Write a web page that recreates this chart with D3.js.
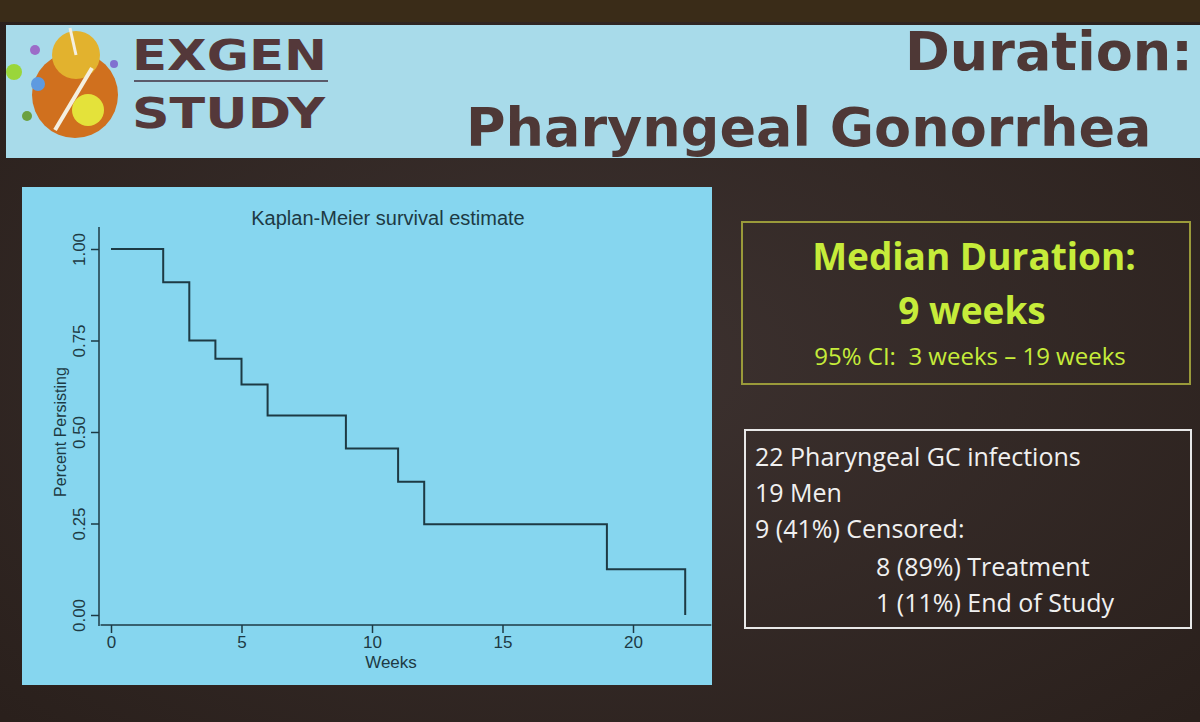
<!DOCTYPE html>
<html><head><meta charset="utf-8">
<script src="https://cdn.jsdelivr.net/npm/d3@7"></script>
<style>body{margin:0;background:#2e2522;overflow:hidden}</style></head>
<body><svg id="s" width="1200" height="722"></svg>
<script>
const weeks = [0, 2, 3, 4, 5, 6, 9, 11, 12, 19, 22];
const survival = [1.00, 0.909, 0.75, 0.70, 0.63, 0.545, 0.455, 0.364, 0.248, 0.125, 0.0];
const xTicks = [0, 5, 10, 15, 20];
const yTicks = [0, 0.25, 0.5, 0.75, 1.0];
const infoLines = ["22 Pharyngeal GC infections","19 Men","9 (41%) Censored:"];
const infoSub = ["8 (89%) Treatment","1 (11%) End of Study"];

const svg = d3.select("#s");
const defs = svg.append("defs");
const g1 = defs.append("radialGradient").attr("id","bg").attr("cx","50%").attr("cy","50%").attr("r","70%");
g1.append("stop").attr("offset","0%").attr("stop-color","#3d3230");
g1.append("stop").attr("offset","100%").attr("stop-color","#2a201c");
svg.append("rect").attr("width",1200).attr("height",722).attr("fill","url(#bg)");
svg.append("rect").attr("width",1200).attr("height",22).attr("fill","#3a2c18");

// header
svg.append("rect").attr("x",6).attr("y",25).attr("width",1194).attr("height",133).attr("fill","#a8dbea");
svg.append("circle").attr("cx",75).attr("cy",95).attr("r",43).attr("fill","#d0701e");
svg.append("circle").attr("cx",76).attr("cy",55).attr("r",24).attr("fill","#e2b22e");
svg.append("circle").attr("cx",88).attr("cy",110).attr("r",16).attr("fill","#e4e23a");
svg.append("line").attr("x1",55).attr("y1",130).attr("x2",92).attr("y2",68).attr("stroke","#f4efe0").attr("stroke-width",4);
svg.append("line").attr("x1",70).attr("y1",28).attr("x2",76).attr("y2",55).attr("stroke","#f4efe0").attr("stroke-width",3);
[[35,50,5,"#9c6cc8"],[14,72,8,"#9ad63a"],[38,84,7,"#5e9ae0"],[114,64,4,"#8070d0"],[27,116,5,"#6ca040"]].forEach(d=>
  svg.append("circle").attr("cx",d[0]).attr("cy",d[1]).attr("r",d[2]).attr("fill",d[3]));
svg.append("text").attr("x",132).attr("y",70).attr("font-family","DejaVu Sans").attr("font-weight","900").attr("font-size",42).attr("fill","#54383a").attr("textLength",195).attr("lengthAdjust","spacingAndGlyphs").text("EXGEN");
svg.append("line").attr("x1",134).attr("x2",328).attr("y1",81).attr("y2",81).attr("stroke","#5a5a6a").attr("stroke-width",2);
svg.append("text").attr("x",132).attr("y",128).attr("font-family","DejaVu Sans").attr("font-weight","900").attr("font-size",42).attr("fill","#54383a").attr("textLength",193).attr("lengthAdjust","spacingAndGlyphs").text("STUDY");
svg.append("text").attr("x",905).attr("y",70).attr("font-family","DejaVu Sans").attr("font-weight","bold").attr("font-size",54).attr("fill","#4e3836").text("Duration:");
svg.append("text").attr("x",466).attr("y",146).attr("font-family","DejaVu Sans").attr("font-weight","bold").attr("font-size",54).attr("fill","#4e3836").text("Pharyngeal Gonorrhea");

// chart panel
svg.append("rect").attr("x",22).attr("y",187).attr("width",690).attr("height",498).attr("fill","#86d6ef");
const x = d3.scaleLinear().domain([0,20]).range([111,633]);
const y = d3.scaleLinear().domain([0,1]).range([615,249]);
const ink = "#1d3a44";
svg.append("text").attr("x",388).attr("y",225).attr("text-anchor","middle").attr("font-family","Liberation Sans").attr("font-size",20).attr("fill",ink).text("Kaplan-Meier survival estimate");
const xa = svg.append("g").attr("transform","translate(0,625)").call(d3.axisBottom(x).tickValues(xTicks).tickSize(8).tickSizeOuter(0));
xa.select(".domain").attr("d",`M${x(-0.4)},0H${x(23)}`);
const ya = svg.append("g").attr("transform","translate(99,0)").call(d3.axisLeft(y).tickValues(yTicks).tickSize(8).tickSizeOuter(0).tickFormat(d3.format(".2f")));
ya.select(".domain").attr("d",`M0,${y(-0.03)}V${y(1.06)}`);
[xa,ya].forEach(a=>{a.selectAll("path,line").attr("stroke",ink).attr("stroke-width",1.5);
  a.selectAll("text").attr("fill",ink).attr("font-family","Liberation Sans").attr("font-size",17);});
ya.selectAll(".tick text").attr("x",null).attr("dy",null).attr("text-anchor","middle").attr("transform","translate(-14,0) rotate(-90)");
svg.append("text").attr("x",391).attr("y",668).attr("text-anchor","middle").attr("font-family","Liberation Sans").attr("font-size",17).attr("fill",ink).text("Weeks");
svg.append("text").attr("transform","translate(66,432) rotate(-90)").attr("text-anchor","middle").attr("font-family","Liberation Sans").attr("font-size",16).attr("fill",ink).text("Percent Persisting");
const pts = weeks.map((w,i)=>[w,survival[i]]);
svg.append("path").datum(pts).attr("fill","none").attr("stroke",ink).attr("stroke-width",2)
  .attr("d",d3.line().x(d=>x(d[0])).y(d=>y(d[1])).curve(d3.curveStepAfter));

// right boxes
svg.append("rect").attr("x",742).attr("y",222).attr("width",448).attr("height",162).attr("fill","none").attr("stroke","#9a9a3a").attr("stroke-width",2);
const gt = (t,x0,y0,fs,w)=>svg.append("text").attr("x",x0).attr("y",y0).attr("text-anchor","middle").attr("font-family","Open Sans").attr("font-weight",w).attr("font-size",fs).attr("fill","#c6ec3a").text(t);
gt("Median Duration:",974,270,37,"bold");
gt("9 weeks",972,324,37,"bold");
gt("95% CI:  3 weeks \u2013 19 weeks",970,365,24,"normal").style("white-space","pre");
svg.append("rect").attr("x",745).attr("y",430).attr("width",446).attr("height",198).attr("fill","none").attr("stroke","#e8e8e8").attr("stroke-width",2);
infoLines.forEach((t,i)=>svg.append("text").attr("x",755).attr("y",466+i*36).attr("font-family","Open Sans").attr("font-size",25).attr("fill","#f0f0f0").text(t));
infoSub.forEach((t,i)=>svg.append("text").attr("x",876).attr("y",576+i*36).attr("font-family","Open Sans").attr("font-size",25).attr("fill","#f0f0f0").text(t));
</script></body></html>
